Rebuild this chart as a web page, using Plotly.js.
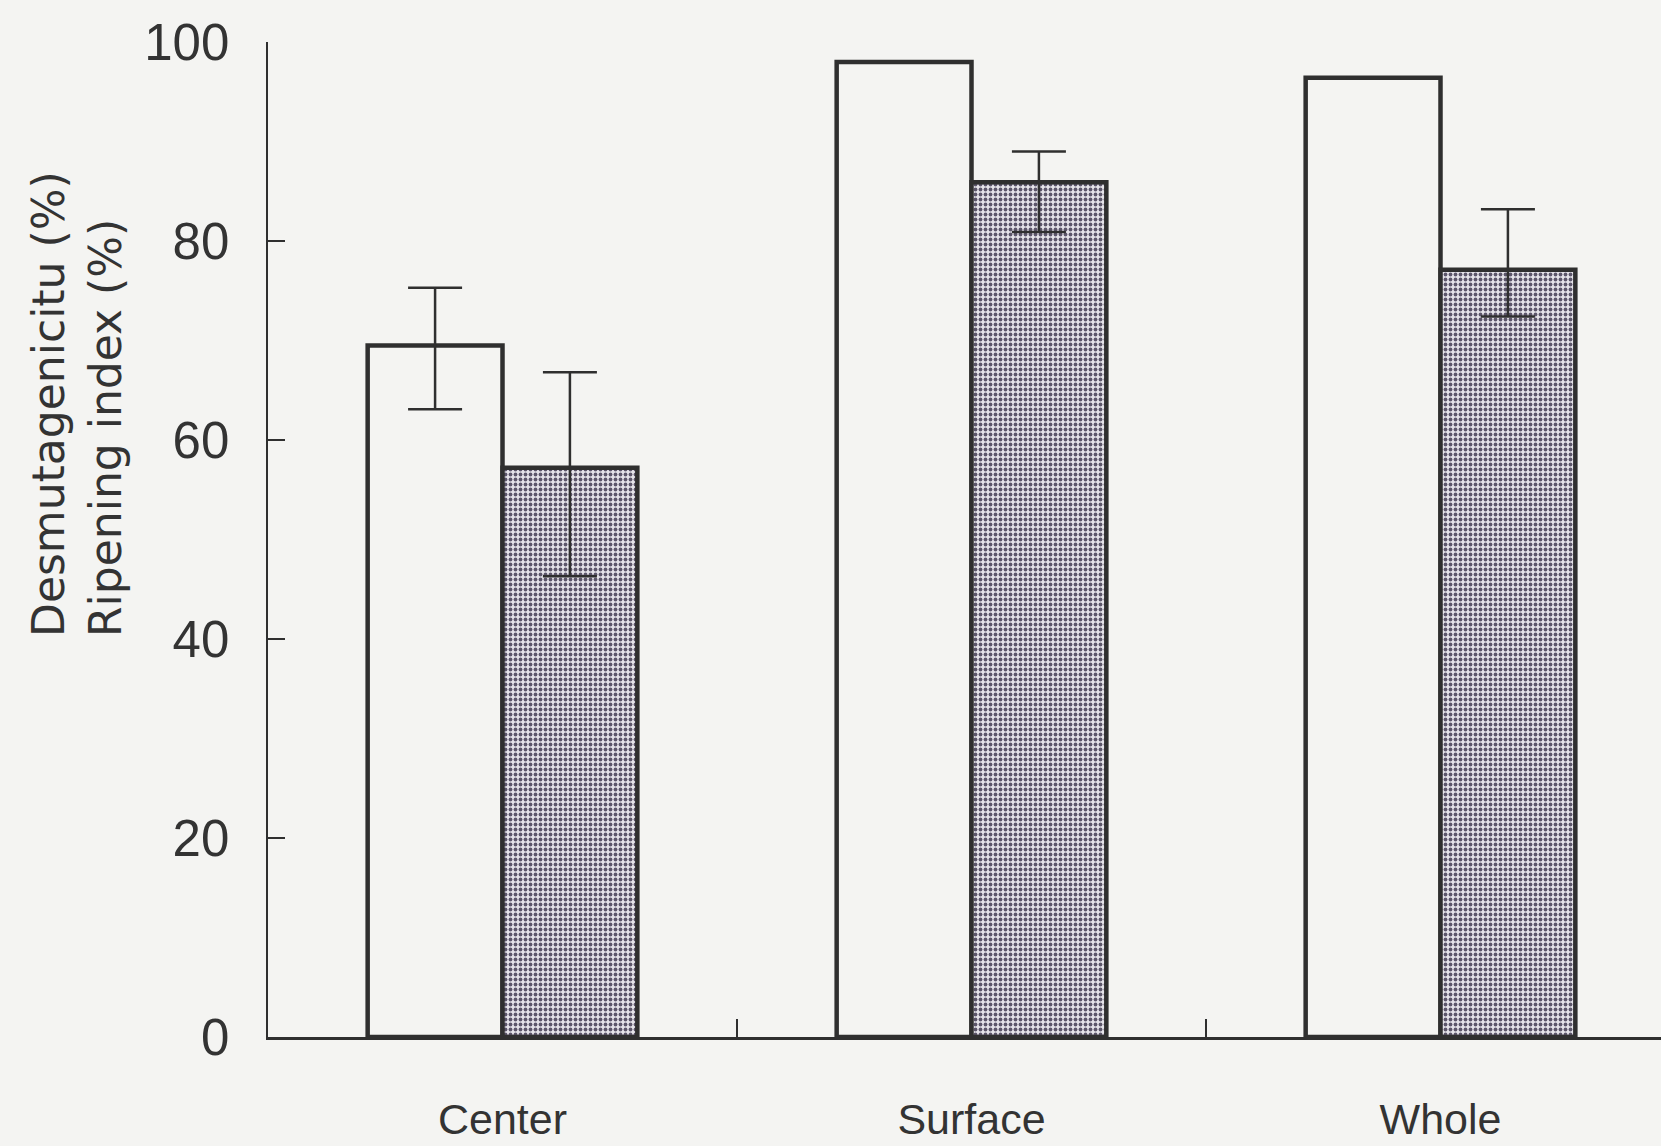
<!DOCTYPE html>
<html>
<head>
<meta charset="utf-8">
<script src="https://cdn.plot.ly/plotly-3.0.1.min.js"></script>
<style>
  html, body { margin: 0; padding: 0; background: #f4f4f2; }
  #chart { width: 1661px; height: 1146px; }
</style>
</head>
<body>
<div id="chart"></div>
<script>
// Sample position within the cheese
const categories = ['Center', 'Surface', 'Whole'];

// Desmutagenicity (%) — open bars
const desmutagenicity = [69.5, 98.0, 96.4];
const desmutErrPlus = [5.8, null, null];
const desmutErrMinus = [6.4, null, null];

// Ripening index (%) — stippled bars
const ripeningIndex = [57.2, 85.9, 77.1];
const ripeningErrPlus = [9.6, 3.1, 6.1];
const ripeningErrMinus = [10.9, 5.0, 4.7];

// Y axis ticks
const yTicks = [0, 20, 40, 60, 80, 100];

const ink = '#2f2f2f';
const bg = '#f4f4f2';

const errStyle = (plus, minus) => ({
  type: 'data', symmetric: false,
  array: plus, arrayminus: minus,
  color: ink, thickness: 2.5, width: 27
});

const traces = [
  {
    type: 'bar', name: 'Desmutagenicity',
    x: categories, y: desmutagenicity,
    marker: { color: bg, line: { color: ink, width: 4.5 } },
    error_y: errStyle(desmutErrPlus, desmutErrMinus),
    hoverinfo: 'x+y'
  },
  {
    type: 'bar', name: 'Ripening index',
    x: categories, y: ripeningIndex,
    marker: {
      color: '#e2e0e6',
      line: { color: ink, width: 4.5 },
      pattern: { shape: '.', fgcolor: '#5c566a', bgcolor: '#e6e4ea', size: 5, solidity: 0.45 }
    },
    error_y: errStyle(ripeningErrPlus, ripeningErrMinus),
    hoverinfo: 'x+y'
  }
];

const figW = 1661, figH = 1146;
const marginL = 268, marginT = 42, marginB = 109;
const plotW = figW - marginL;
const plotH = figH - marginT - marginB;
const pxPerCategory = 469;

const layout = {
  width: figW, height: figH,
  paper_bgcolor: bg, plot_bgcolor: bg,
  margin: { l: marginL, r: 0, t: marginT, b: marginB, pad: 0 },
  showlegend: false,
  barmode: 'group',
  bargap: 0.425,
  bargroupgap: 0,
  font: { family: '"DejaVu Sans", sans-serif', color: '#333' },
  xaxis: {
    type: 'category',
    range: [-0.5, -0.5 + plotW / pxPerCategory],
    showline: true, linecolor: ink, linewidth: 3,
    ticks: 'inside', tickson: 'boundaries', ticklen: 18, tickwidth: 2.5, tickcolor: ink,
    tickfont: { family: '"Liberation Sans", sans-serif', size: 43, color: '#333' },
    ticklabelstandoff: 42,
    showgrid: false, zeroline: false, fixedrange: true
  },
  yaxis: {
    range: [0, 100],
    tickvals: yTicks,
    ticktext: yTicks.map(String),
    showline: true, linecolor: ink, linewidth: 2.5,
    ticks: 'inside', ticklen: 17, tickwidth: 2.5, tickcolor: ink,
    tickfont: { family: '"Liberation Sans", sans-serif', size: 51, color: '#333' },
    ticklabelstandoff: 26,
    showgrid: false, zeroline: false, fixedrange: true
  },
  annotations: [
    {
      text: 'Desmutagenicitu (%)<br>Ripening index (%)',
      xref: 'paper', yref: 'paper',
      x: (77 - marginL) / plotW, y: (1037 - 404) / plotH,
      xanchor: 'center', yanchor: 'middle',
      textangle: -90, align: 'left', showarrow: false,
      font: { family: '"DejaVu Sans", sans-serif', size: 44, color: '#333' }
    }
  ]
};

Plotly.newPlot('chart', traces, layout, { displayModeBar: false, staticPlot: true });
</script>
</body>
</html>
